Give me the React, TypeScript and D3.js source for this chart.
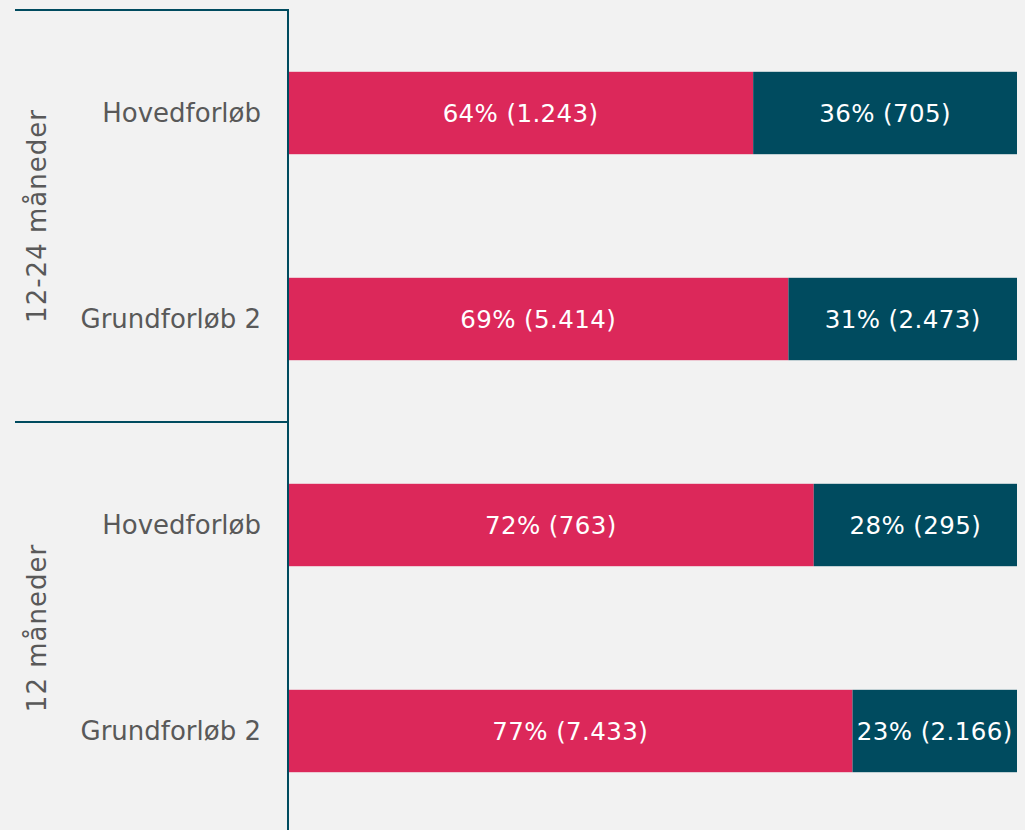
import React, { useRef, useEffect } from 'react';
import * as d3 from 'd3';

// categories, top to bottom
const groups = ['12-24 måneder', '12 måneder'];
const categories = ['Hovedforløb', 'Grundforløb 2', 'Hovedforløb', 'Grundforløb 2'];
const categoryGroup = [0, 0, 1, 1];

// series (counts)
const firstSeries = [1243, 5414, 763, 7433];
const secondSeries = [705, 2473, 295, 2166];
const firstPct = ['64%', '69%', '72%', '77%'];
const secondPct = ['36%', '31%', '28%', '23%'];

const colors = ['#dc285a', '#004b5f'];
const font = 'DejaVu Sans, Verdana, sans-serif';

const fmt = (n: number) => d3.format(',')(n).replace(/,/g, '.');

const App = () => {
  const ref = useRef<SVGSVGElement | null>(null);

  useEffect(() => {
    document.body.style.margin = '0';
    document.body.style.background = '#f2f2f2';
    const W = 1025, H = 830;
    const svg = d3.select(ref.current);
    svg.selectAll('*').remove();

    svg.append('rect').attr('width', W).attr('height', H).attr('fill', '#f2f2f2');

    const axisX = 288;
    const top = 10;
    const bottom = 834;

    const x = d3.scaleLinear().domain([0, 1]).range([axisX, 1017]);
    const y = d3.scaleBand<number>()
      .domain(d3.range(categories.length))
      .range([top, bottom])
      .paddingInner(0.6)
      .paddingOuter(0.3);

    const rows = categories.map((c, i) => {
      const total = firstSeries[i] + secondSeries[i];
      return { i, c, a: firstSeries[i] / total, b: secondSeries[i] / total };
    });

    const g = svg.append('g');

    // stacked segments
    g.selectAll('rect.a').data(rows).join('rect')
      .attr('class', 'a')
      .attr('x', x(0))
      .attr('y', d => y(d.i)!)
      .attr('width', d => x(d.a) - x(0))
      .attr('height', y.bandwidth())
      .attr('fill', colors[0]);

    g.selectAll('rect.b').data(rows).join('rect')
      .attr('class', 'b')
      .attr('x', d => x(d.a))
      .attr('y', d => y(d.i)!)
      .attr('width', d => x(1) - x(d.a))
      .attr('height', y.bandwidth())
      .attr('fill', colors[1]);

    // segment labels
    g.selectAll('text.la').data(rows).join('text')
      .attr('x', d => (x(0) + x(d.a)) / 2)
      .attr('y', d => y(d.i)! + y.bandwidth() / 2)
      .attr('dy', '0.36em')
      .attr('text-anchor', 'middle')
      .attr('fill', '#fff')
      .attr('font-family', font)
      .attr('font-size', 24.5)
      .attr('letter-spacing', 0.4)
      .text(d => `${firstPct[d.i]} (${fmt(firstSeries[d.i])})`);

    g.selectAll('text.lb').data(rows).join('text')
      .attr('x', d => (x(d.a) + x(1)) / 2)
      .attr('y', d => y(d.i)! + y.bandwidth() / 2)
      .attr('dy', '0.36em')
      .attr('text-anchor', 'middle')
      .attr('fill', '#fff')
      .attr('font-family', font)
      .attr('font-size', 24.5)
      .attr('letter-spacing', 0.4)
      .text(d => `${secondPct[d.i]} (${fmt(secondSeries[d.i])})`);

    // category labels
    g.selectAll('text.cat').data(rows).join('text')
      .attr('x', axisX - 27)
      .attr('y', d => y(d.i)! + y.bandwidth() / 2)
      .attr('dy', '0.35em')
      .attr('text-anchor', 'end')
      .attr('fill', '#595959')
      .attr('font-family', font)
      .attr('font-size', 26)
      .text(d => d.c);

    // group separators and labels
    const step = y.step();
    groups.forEach((name, gi) => {
      const idx = categoryGroup.map((v, i) => (v === gi ? i : -1)).filter(i => i >= 0);
      const y0 = y(idx[0])! - step * 0.3;
      const y1 = y(idx[idx.length - 1])! + y.bandwidth() + step * 0.3;
      g.append('line')
        .attr('x1', 15).attr('x2', axisX)
        .attr('y1', y0).attr('y2', y0)
        .attr('stroke', '#004b5f').attr('stroke-width', 2);
      g.append('text')
        .attr('transform', `translate(37,${(y0 + y1) / 2}) rotate(-90)`)
        .attr('dy', '0.35em')
        .attr('text-anchor', 'middle')
        .attr('fill', '#595959')
        .attr('font-family', font)
        .attr('font-size', 26)
        .attr('letter-spacing', 1)
        .text(name);
    });

    // vertical axis line
    g.append('line')
      .attr('x1', axisX).attr('x2', axisX)
      .attr('y1', top - 1).attr('y2', H)
      .attr('stroke', '#004b5f').attr('stroke-width', 2);
  }, []);

  return (
    <div style={{ position: 'absolute', left: 0, top: 0, width: 1025, height: 830, background: '#f2f2f2' }}>
      <svg ref={ref} width={1025} height={830} style={{ display: 'block' }} />
    </div>
  );
};

export default App;
